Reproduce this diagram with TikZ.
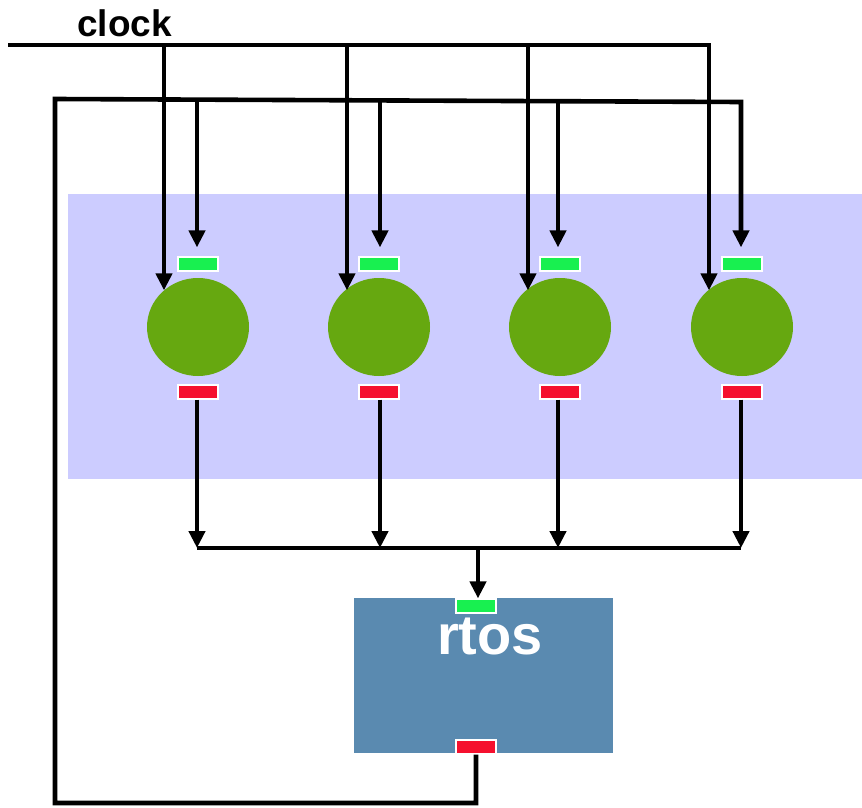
\documentclass[tikz,border=0pt]{standalone}
\usepackage{fontspec}
\setmainfont{Liberation Sans}
\usetikzlibrary{shapes.geometric,arrows.meta}
\definecolor{lav}{HTML}{CCCCFF}
\definecolor{procgreen}{HTML}{66A810}
\definecolor{tabgreen}{HTML}{18F050}
\definecolor{tabred}{HTML}{F5102E}
\definecolor{rtosblue}{HTML}{5A8AB0}
\tikzset{
  wire/.style={line width=4.6pt, line join=miter},
  arr/.style={wire, -{Triangle[width=16pt,length=17pt]}},
  proc/.style={ellipse, fill=procgreen, minimum width=102pt, minimum height=98pt, inner sep=0pt},
  intab/.style={rectangle, fill=tabgreen, draw=white, line width=1.2pt, minimum width=40pt, minimum height=14pt, inner sep=0pt},
  outtab/.style={rectangle, fill=tabred, draw=white, line width=1.2pt, minimum width=40pt, minimum height=14pt, inner sep=0pt},
}
\begin{document}
\begin{tikzpicture}[x=1pt,y=-1pt]
\useasboundingbox (0,0) rectangle (862,808);
% background band
\fill[lav] (68,194) rectangle (862,479);
% processes
\foreach \i/\x in {1/198,2/379,3/560,4/742}{
  \node[proc] (e\i) at (\x,327) {};
  \node[intab] (g\i) at (\x,264) {};
  \node[outtab] (r\i) at (\x,392) {};
}
% rtos
\node[rectangle, fill=rtosblue, minimum width=259pt, minimum height=155pt, inner sep=0pt] (rtos) at (483.5,675.5) {};
\node[intab] (gr) at (476,606) {};
\node[outtab] (rr) at (476,747) {};
\node[anchor=base, text=white, font=\fontsize{56}{56}\selectfont\bfseries, inner sep=0pt] (rtoslabel) at (490,654) {rtos};
% clock
\node[anchor=base, font=\fontsize{37}{37}\selectfont\bfseries, inner sep=0pt] (clocklabel) at (124.5,37) {clock};
\coordinate (clkL) at (8,45);
\coordinate (c1) at (164,45);
\coordinate (c2) at (347,45);
\coordinate (c3) at (528,45);
\coordinate (c4) at (709,45);
\draw[arr] (clkL) -- (c4) -- (c4 |- e4.133);
\foreach \i in {1,2,3}{
  \draw[arr] (c\i) -- (c\i |- e\i.133);
}
% feedback loop
\coordinate (fbB) at (55,803);
\coordinate (fbC) at (55,99);
\coordinate (fbD) at (741,102);
\draw[arr, shorten >=9pt] (rr.south) -- (rr.south |- fbB) -- (fbB) -- (fbC) -- (fbD) -- (fbD |- g4.north);
\coordinate (f1) at (197,99.6);
\coordinate (f2) at (380,100.4);
\coordinate (f3) at (558,101.2);
\foreach \i in {1,2,3}{
  \draw[arr, shorten >=9pt] (f\i) -- (f\i |- g\i.north);
}
% outputs to bus
\coordinate (b1) at (197,548);
\coordinate (b2) at (380,548);
\coordinate (b3) at (558,548);
\coordinate (b4) at (741,548);
\coordinate (bm) at (478,548);
\foreach \i in {1,2,3,4}{
  \draw[arr] (b\i |- r\i.south) -- (b\i);
}
\draw[wire] (b1) -- (b4);
\draw[arr] (bm) -- (bm |- gr.north);
\end{tikzpicture}
\end{document}
